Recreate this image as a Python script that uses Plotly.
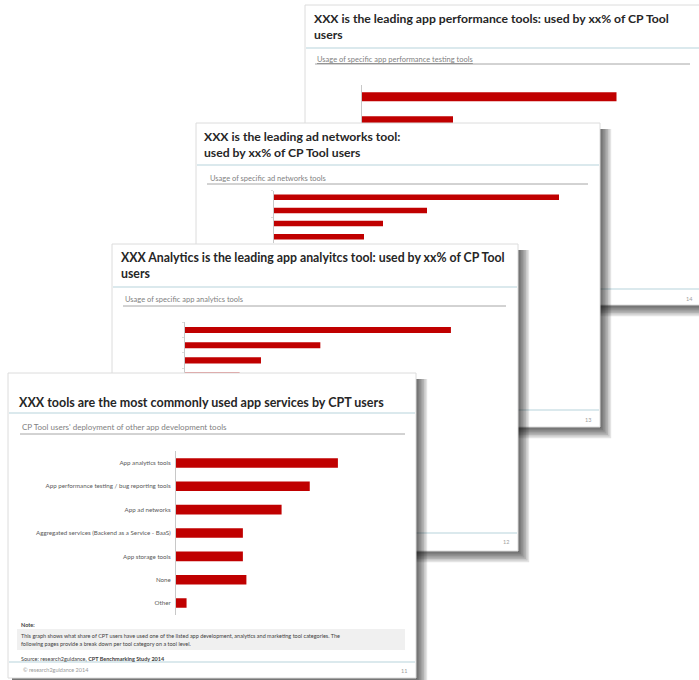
import plotly.graph_objects as go

W, H = 699, 680
RED = "#C00000"

# ---------------- data ----------------
# Slide 1 (front): CP Tool users' deployment of other app development tools (%)
s1_categories = [
    "App analytics tools",
    "App performance testing / bug reporting tools",
    "App ad networks",
    "Aggregated services (Backend as a Service - BaaS)",
    "App storage tools",
    "None",
    "Other",
]
s1_values = [46, 38, 30, 19, 19, 20, 3]

# Slide 2: Usage of specific app analytics tools (%)
s2_categories = ["Analytics tool 1", "Analytics tool 2", "Analytics tool 3", "Analytics tool 4"]
s2_values = [56, 28.5, 16, 11.5]

# Slide 3: Usage of specific ad networks tools (%)
s3_categories = ["Ad network 1", "Ad network 2", "Ad network 3", "Ad network 4"]
s3_values = [57, 30.6, 21.8, 18]

# Slide 4 (back): Usage of specific app performance testing tools (%)
s4_categories = ["Performance tool 1", "Performance tool 2"]
s4_values = [51, 18.3]

# ---------------- slide layout (pixel geometry, back to front) ----------------
slides = [
    dict(card=(305, 5, 712, 305), header=48, footer=289, sub=(315, 690, 64),
         chart=(361.5, 690, 84.7, 132.7), xmax=65.7, width=0.37,
         cats=s4_categories, vals=s4_values, labels=False, ticks=""),
    dict(card=(196, 123, 600, 427), header=165, footer=410, sub=(207, 588, 184),
         chart=(274, 588, 190.6, 243.4), xmax=62.8, width=0.42,
         cats=s3_categories, vals=s3_values, labels=False, ticks="outside"),
    dict(card=(112, 244, 518, 551), header=287, footer=533, sub=(123, 506, 306),
         chart=(185, 506, 322.4, 383.2), xmax=67.6, width=0.40,
         cats=s2_categories, vals=s2_values, labels=False, ticks="outside"),
    dict(card=(8, 373, 416, 678), header=413, footer=662, sub=(20, 405, 434),
         chart=(176, 405, 451.3, 614.7), xmax=65.06, width=0.41,
         cats=s1_categories, vals=s1_values, labels=True, ticks=""),
]

fig = go.Figure()
layout = dict(
    width=W, height=H, margin=dict(l=0, r=0, t=0, b=0),
    paper_bgcolor="white", plot_bgcolor="rgba(0,0,0,0)", showlegend=False,
    font=dict(family="Lato, Liberation Sans, sans-serif", color="#404040"),
)


def ax_name(i):
    return ("x" if i == 1 else f"x{i}"), ("y" if i == 1 else f"y{i}")


def rect(x0, y0, x1, y1, fill, xa, ya, line=None):
    fig.add_trace(go.Scatter(
        x=[x0, x1, x1, x0, x0], y=[y0, y0, y1, y1, y0], mode="lines",
        fill="toself", fillcolor=fill,
        line=dict(color=line if line else "rgba(0,0,0,0)", width=1 if line else 0),
        hoverinfo="skip", xaxis=xa, yaxis=ya))


def hline(x0, x1, y, color, xa, ya, w=1):
    fig.add_trace(go.Scatter(x=[x0, x1], y=[y, y], mode="lines",
                             line=dict(color=color, width=w),
                             hoverinfo="skip", xaxis=xa, yaxis=ya))


idx = 0
for s in slides:
    # ---- frame subplot ----
    idx += 1
    xa, ya = ax_name(idx)
    x0, y0, x1, y1 = s["card"]
    for k in range(7, 0, -1):
        rect(x0 + 4, y0 + 6, x1 + 1.6 * k, y1 + 1.6 * k, "rgba(0,0,0,0.11)", xa, ya)
    rect(x0, y0, x1, y1, "white", xa, ya, line="#dcdcdc")
    hline(x0 + 1, x1 - 1, s["header"], "#cfe2e7", xa, ya, 1.5)
    hline(x0 + 1, x1 - 1, s["footer"], "#cfe2e7", xa, ya, 1.5)
    sx0, sx1, sy = s["sub"]
    hline(sx0, sx1, sy, "#a6a6a6", xa, ya, 1)
    if s["labels"]:
        rect(17, 629, 405, 650, "#f0f0f0", xa, ya)
    key = "" if idx == 1 else str(idx)
    layout["xaxis" + key] = dict(domain=[0, 1], range=[0, W], visible=False, fixedrange=True,
                                 anchor=ya)
    layout["yaxis" + key] = dict(domain=[0, 1], range=[H, 0], visible=False, fixedrange=True,
                                 anchor=xa)

    # ---- chart subplot ----
    idx += 1
    xa, ya = ax_name(idx)
    cx0, cx1, cy0, cy1 = s["chart"]
    fig.add_trace(go.Bar(
        x=s["vals"], y=s["cats"], orientation="h", width=s["width"],
        marker=dict(color=RED, line=dict(width=0)), xaxis=xa, yaxis=ya,
        hoverinfo="x+y"))
    key = str(idx)
    layout["xaxis" + key] = dict(domain=[cx0 / W, cx1 / W], range=[0, s["xmax"]],
                                 visible=False, fixedrange=True, anchor=ya)
    layout["yaxis" + key] = dict(
        domain=[1 - cy1 / H, 1 - cy0 / H], type="category", autorange="reversed",
        categoryarray=s["cats"], categoryorder="array",
        showline=True, linecolor="#c8c8c8", linewidth=1,
        ticks=s["ticks"], ticklen=2, tickcolor="#dadada", tickson="boundaries",
        showticklabels=s["labels"], showgrid=False, zeroline=False,
        tickfont=dict(size=6.2, color="#595959", family="Lato, Liberation Sans, sans-serif"),
        ticklabelstandoff=3, fixedrange=True, anchor=xa)

fig.update_layout(**layout)


def txt(x, y, text, size, color="#262626", anchor="left"):
    fig.add_annotation(x=x, y=y, xref="x", yref="y", text=text, showarrow=False,
                       xanchor=anchor, yanchor="middle", align="left",
                       font=dict(size=size, color=color,
                                 family="Lato, Liberation Sans, sans-serif"))


# Slide 4 texts
txt(312, 18, "<b>XXX is the leading app performance tools: used by xx% of CP Tool</b>", 12.2)
txt(312, 34, "<b>users</b>", 12.2)
txt(315, 59, "<u>Usage of specific app performance testing tools</u>", 7.5, "#7f7f7f")
txt(695, 299, "14", 5.5, "#a0a0a0", "right")
# Slide 3 texts
txt(202, 136, "<b>XXX is the leading ad networks tool:</b>", 12.2)
txt(202, 152, "<b>used by xx% of CP Tool users</b>", 12.2)
txt(208, 178, "Usage of specific ad networks tools", 7.5, "#7f7f7f")
txt(593, 420, "13", 5.5, "#a0a0a0", "right")
# Slide 2 texts
txt(119, 257, "<b>XXX Analytics is the leading app analyitcs tool: used by xx% of CP Tool</b>", 12.3)
txt(119, 273, "<b>users</b>", 12.3)
txt(123, 299, "Usage of specific app analytics tools", 7.5, "#7f7f7f")
txt(511, 542, "12", 5.5, "#a0a0a0", "right")
# Slide 1 texts
txt(17, 402, "<b>XXX tools are the most commonly used app services by CPT users</b>", 12.5)
txt(20, 427, "CP Tool users' deployment of other app development tools", 8, "#7f7f7f")
txt(19, 625, "<b>Note:</b>", 5.5, "#404040")
txt(19, 636, "This graph shows what share of CPT users have used one of the listed app development, "
             "analytics and marketing tool categories. The", 5.5, "#404040")
txt(19, 643.5, "following pages provide a break down per tool category on a tool level.", 5.5, "#404040")
txt(19, 659, "Source: research2guidance, <b>CPT Benchmarking Study 2014</b>", 5.5, "#404040")
txt(21, 670, "© research2guidance 2014", 5.5, "#9a9a9a")
txt(409, 671, "11", 5.5, "#a0a0a0", "right")

fig.write_html("out.html", config={"displayModeBar": False},
               post_script="document.body.style.margin='0';document.body.style.overflow='hidden';")
